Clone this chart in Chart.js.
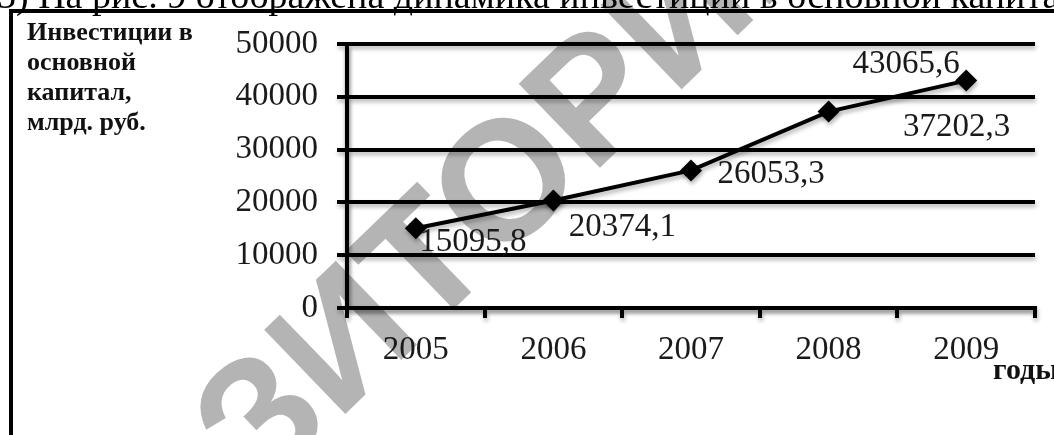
<!DOCTYPE html>
<html>
<head>
<meta charset="utf-8">
<script src="https://cdn.jsdelivr.net/npm/chart.js@4"></script>
<style>
  html, body { margin: 0; padding: 0; background: #fff; }
  #wrap { position: relative; width: 1054px; height: 435px; overflow: hidden; }
</style>
</head>
<body>
<div id="wrap"><canvas id="myChart" width="1054" height="435"></canvas></div>
<script>
// years on the category axis and investment values (bn rub)
var years = ['2005', '2006', '2007', '2008', '2009'];
var investment = [15095.8, 20374.1, 26053.3, 37202.3, 43065.6];
var yTickValues = [0, 10000, 20000, 30000, 40000, 50000];
var yTitleLines = ['Инвестиции в', 'основной', 'капитал,', 'млрд. руб.'];
var xTitle = 'годы';
var caption = '5) На рис. 9 отображена динамика инвестиций в основной капитал';
var watermark = 'РЕПОЗИТОРИЙ';

// where each value label sits relative to its marker
var labelOffsets = [[57, 14], [69, 27], [80, 4], [128, 16], [-60, -16]];

var serif = '"Liberation Serif", "Times New Roman", serif';

// comma as decimal separator
function fmt(v) {
    return v.toFixed(1).replace('.', ',');
}

// grey diagonal stamp under everything, then a soft shadow for the lines
var stampPlugin = {
    id: 'stamp',
    beforeDraw: function(chart) {
        var ctx = chart.ctx;
        ctx.save();
        ctx.font = 'bold 170px "Liberation Sans", Arial, sans-serif';
        ctx.fillStyle = '#b4b4b4';
        ctx.textBaseline = 'middle';
        ctx.textAlign = 'left';
        ctx.translate(228, 462);
        ctx.rotate(-44 * Math.PI / 180);
        var pre = ctx.measureText('РЕПО').width;
        ctx.fillText(watermark, -pre, 0);
        ctx.restore();

        ctx.shadowColor = 'rgba(0,0,0,0.3)';
        ctx.shadowBlur = 4;
        ctx.shadowOffsetX = 1;
        ctx.shadowOffsetY = 3;
    },
    afterDatasetsDraw: function(chart) {
        var ctx = chart.ctx;
        ctx.shadowColor = 'rgba(0,0,0,0)';
        ctx.shadowBlur = 0;
        ctx.shadowOffsetX = 0;
        ctx.shadowOffsetY = 0;
    }
};

// value labels next to the markers
var valueLabels = {
    id: 'valueLabels',
    afterDatasetsDraw: function(chart) {
        var ctx = chart.ctx;
        var meta = chart.getDatasetMeta(0);
        ctx.save();
        ctx.font = '33px ' + serif;
        ctx.fillStyle = '#1a1a1a';
        ctx.textAlign = 'center';
        ctx.textBaseline = 'middle';
        for (var i = 0; i < meta.data.length; i++) {
            var pt = meta.data[i];
            ctx.fillText(fmt(investment[i]), pt.x + labelOffsets[i][0], pt.y + labelOffsets[i][1]);
        }
        ctx.restore();
    }
};

// axis titles, caption line and the frame
var extras = {
    id: 'extras',
    afterDraw: function(chart) {
        var ctx = chart.ctx;
        ctx.save();
        ctx.fillStyle = '#111';
        ctx.textAlign = 'left';
        ctx.textBaseline = 'alphabetic';
        ctx.font = 'bold 26px ' + serif;
        for (var i = 0; i < yTitleLines.length; i++) {
            ctx.fillText(yTitleLines[i], 27, 40 + i * 30);
        }
        ctx.font = 'bold 30px ' + serif;
        ctx.fillText(xTitle, 993, 379);

        ctx.font = '38px ' + serif;
        ctx.fillStyle = '#000';
        ctx.fillText(caption, -3, 8);

        ctx.strokeStyle = '#000';
        ctx.lineWidth = 4;
        ctx.beginPath();
        ctx.moveTo(11, 440);
        ctx.lineTo(11, 11);
        ctx.lineTo(1060, 11);
        ctx.stroke();
        ctx.restore();
    }
};

var ctx = document.getElementById('myChart');
new Chart(ctx, {
    type: 'line',
    data: {
        labels: years,
        datasets: [{
            data: investment,
            borderColor: '#000',
            borderWidth: 4,
            backgroundColor: '#000',
            pointStyle: 'rectRot',
            pointRadius: 11,
            pointBorderWidth: 0,
            tension: 0,
            clip: false
        }]
    },
    options: {
        responsive: false,
        animation: false,
        layout: { padding: { left: 0, top: 44, right: 19, bottom: 0 } },
        plugins: {
            legend: { display: false },
            tooltip: { enabled: false }
        },
        scales: {
            x: {
                offset: true,
                grid: {
                    offset: true,
                    lineWidth: 4,
                    tickLength: 10,
                    tickWidth: 4,
                    tickColor: '#000',
                    // only the two outer lines close the plot box
                    color: function(c) {
                        return (c.index === 0 || c.index === years.length) ? '#000' : 'rgba(0,0,0,0)';
                    }
                },
                border: { display: true, color: '#000', width: 4 },
                ticks: {
                    z: 1,
                    font: { family: serif, size: 33 },
                    color: '#1a1a1a',
                    padding: 13,
                    maxRotation: 0
                },
                afterFit: function(scale) { scale.height = 127; }
            },
            y: {
                min: 0,
                max: 50000,
                afterBuildTicks: function(scale) {
                    scale.ticks = yTickValues.map(function(v) { return { value: v }; });
                },
                grid: {
                    color: '#000',
                    lineWidth: 4,
                    tickLength: 10
                },
                border: { display: true, color: '#000', width: 4 },
                ticks: {
                    z: 1,
                    font: { family: serif, size: 33 },
                    color: '#1a1a1a',
                    padding: 19,
                    callback: function(v) { return String(v); }
                },
                afterFit: function(scale) { scale.width = 347; }
            }
        }
    },
    plugins: [stampPlugin, valueLabels, extras]
});
</script>
</body>
</html>
